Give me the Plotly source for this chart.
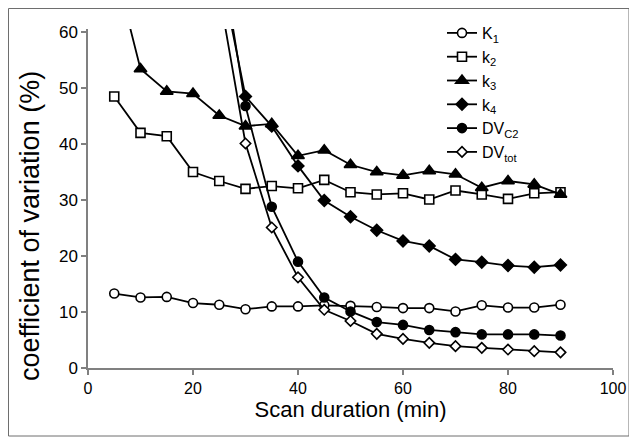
import plotly.graph_objects as go

# Scan durations (min)
scan_duration = [5, 10, 15, 20, 25, 30, 35, 40, 45, 50, 55, 60, 65, 70, 75, 80, 85, 90]

# Coefficient of variation (%) per parameter (values above 60 are off-scale estimates)
K1 = [13.3, 12.6, 12.7, 11.6, 11.3, 10.5, 11.0, 11.0, 11.2, 11.1, 10.9, 10.7, 10.7, 10.1, 11.2, 10.8, 10.8, 11.3]
k2 = [48.5, 42.0, 41.4, 35.0, 33.4, 32.0, 32.5, 32.1, 33.6, 31.4, 31.0, 31.2, 30.1, 31.7, 31.0, 30.2, 31.2, 31.4]
k3 = [72.0, 53.4, 49.4, 49.0, 45.1, 43.2, 43.6, 37.9, 38.9, 36.3, 35.0, 34.4, 35.2, 34.6, 32.2, 33.4, 32.8, 31.0]
k4 = [None, None, None, None, 72.0, 48.5, 43.2, 36.1, 29.9, 27.0, 24.6, 22.7, 21.8, 19.4, 18.9, 18.3, 18.0, 18.4]
DV_C2 = [None, None, None, None, 76.0, 46.8, 28.8, 19.0, 12.6, 10.1, 8.2, 7.7, 6.8, 6.4, 6.0, 6.0, 6.0, 5.8]
DV_tot = [None, None, None, None, 67.0, 40.1, 25.1, 16.2, 10.4, 8.4, 6.1, 5.2, 4.5, 3.9, 3.6, 3.3, 3.0, 2.8]

series_names = ["K<sub>1</sub>", "k<sub>2</sub>", "k<sub>3</sub>", "k<sub>4</sub>", "DV<sub>C2</sub>", "DV<sub>tot</sub>"]
series_values = [K1, k2, k3, k4, DV_C2, DV_tot]
styles = [
    dict(symbol="circle", size=9, color="white"),
    dict(symbol="square", size=9, color="white"),
    dict(symbol="triangle-up", size=11, color="black"),
    dict(symbol="diamond", size=9, color="black"),
    dict(symbol="circle", size=9, color="black"),
    dict(symbol="diamond", size=8, color="white"),
]

FONT = "Liberation Sans, Arial, sans-serif"

fig = go.Figure()
for name, vals, st in zip(series_names, series_values, styles):
    fig.add_trace(go.Scatter(
        x=scan_duration, y=vals, name=name, mode="lines+markers",
        line=dict(color="black", width=1.8),
        marker=dict(symbol=st["symbol"], size=st["size"], color=st["color"],
                    line=dict(color="black", width=1.6)),
        connectgaps=False,
        cliponaxis=True,
    ))

# The page adds an 8px body margin, so the figure is 8px smaller than the window
W, H = 629, 435
L, T, R, B = 80, 21, 24, 75
pw, ph = W - L - R, H - T - B

def px_x(p):
    return (p - L) / pw

def px_y(p):
    return (H - B - p) / ph

fig.update_layout(
    width=W, height=H,
    margin=dict(l=L, r=R, t=T, b=B, autoexpand=False),
    paper_bgcolor="white", plot_bgcolor="white",
    font=dict(family=FONT, color="black", size=16),
    showlegend=True,
    legend=dict(
        x=px_x(434), y=px_y(8), xanchor="left", yanchor="top",
        font=dict(family=FONT, size=16, color="black"),
        bgcolor="rgba(0,0,0,0)", itemwidth=30, tracegroupgap=0,
    ),
    xaxis=dict(
        range=[0, 100], tickmode="array", tickvals=[0, 20, 40, 60, 80, 100],
        showgrid=False, zeroline=False, showline=True, linecolor="#808080", linewidth=1.5,
        ticks="outside", ticklen=5, tickcolor="#808080", tickwidth=1.5,
        tickfont=dict(size=16),
        title=dict(text="Scan duration (min)", font=dict(size=22), standoff=6),
    ),
    yaxis=dict(
        range=[0, 60.55], tickmode="array", tickvals=[0, 10, 20, 30, 40, 50, 60],
        showgrid=False, zeroline=False, showline=True, linecolor="#808080", linewidth=1.5,
        ticks="outside", ticklen=5, tickcolor="#808080", tickwidth=1.5,
        tickfont=dict(size=17),
    ),
    annotations=[dict(
        text="coefficient of variation (%)", textangle=-90,
        xref="paper", yref="paper", x=px_x(22), y=px_y(218),
        xanchor="center", yanchor="middle", showarrow=False,
        font=dict(family=FONT, size=27, color="black"),
    )],
    shapes=[dict(
        type="rect", xref="paper", yref="paper",
        x0=px_x(0.5), x1=px_x(621), y0=px_y(428), y1=px_y(0.5),
        line=dict(color="#6e6e6e", width=1), layer="below",
    )],
)

fig.write_html("out.html")
